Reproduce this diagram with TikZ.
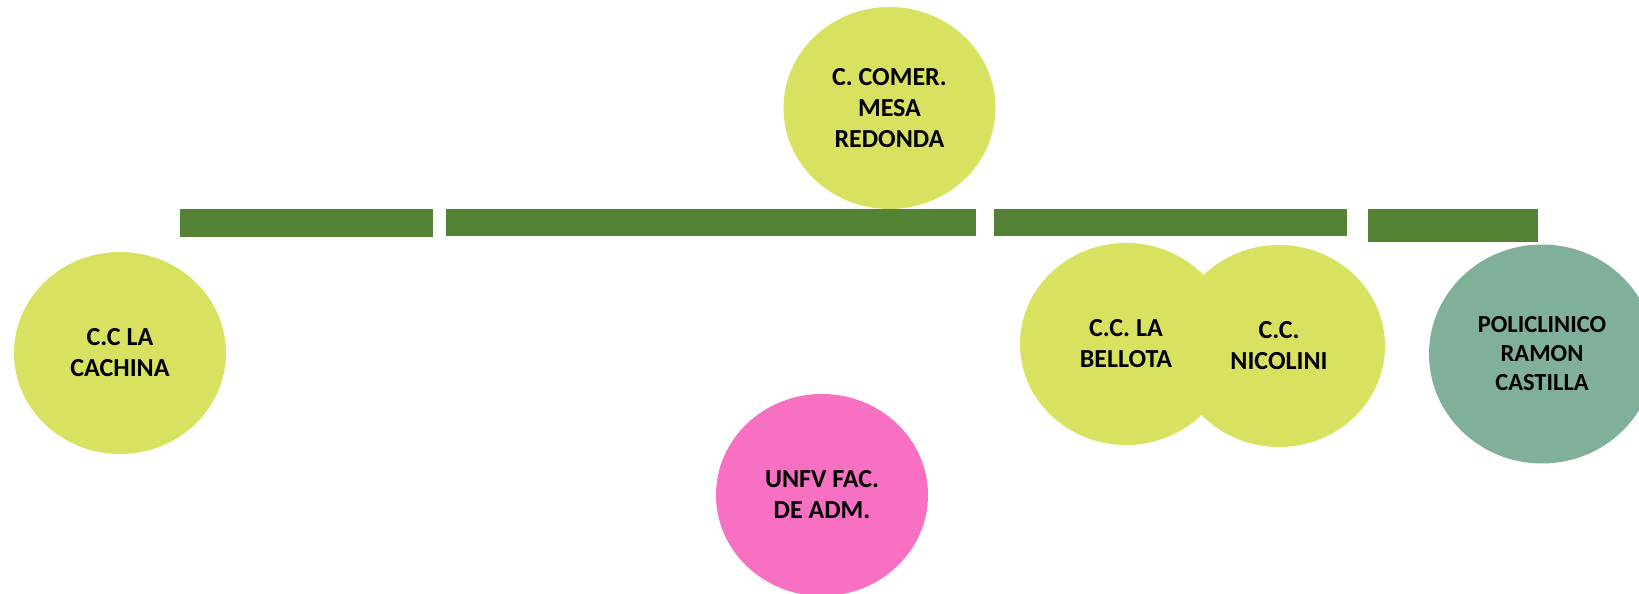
\documentclass[tikz,border=0pt]{standalone}
\usepackage{fontspec}
\setmainfont{Carlito}
\usetikzlibrary{shapes.geometric}
\definecolor{lime}{RGB}{216,226,96}
\definecolor{barGreen}{RGB}{84,130,53}
\definecolor{sage}{RGB}{128,176,154}
\definecolor{rosa}{RGB}{247,112,194}
\tikzset{
  bubble/.style={ellipse, inner sep=0pt, minimum width=212pt, minimum height=202pt,
    align=center, font=\fontsize{26}{31}\selectfont\bfseries, text=black},
  bar/.style={fill=barGreen}
}
\begin{document}
\begin{tikzpicture}[x=1pt,y=-1pt]
\useasboundingbox (0,0) rectangle (1639,594);
% ellipses
\node[bubble, fill=lime] (mesa) at (889.5,108) {C. COMER.\\MESA\\REDONDA};
\node[bubble, fill=lime] (cachina) at (120,353) {C.C LA\\CACHINA};
\node[bubble, fill=lime] (bellota) at (1126,344) {};
\node[bubble, fill=lime] (nicolini) at (1279,346) {C.C.\\NICOLINI};
\node[bubble, text=black] (bellotatxt) at (1126,344) {C.C. LA\\BELLOTA};
\node[bubble, fill=sage, minimum width=226pt, minimum height=219pt,
  font=\fontsize{24.5}{29}\selectfont\bfseries] (poli) at (1542,354) {POLICLINICO\\RAMON\\CASTILLA};
\node[bubble, fill=rosa] (unfv) at (822,495) {UNFV FAC.\\DE ADM.};
% bars
\path[bar] (180,209) rectangle (433,237);
\path[bar] (446,209) rectangle (976,236);
\path[bar] (994,209) rectangle (1347,236);
\path[bar] (1368,209) rectangle (1538,242);
\end{tikzpicture}
\end{document}
